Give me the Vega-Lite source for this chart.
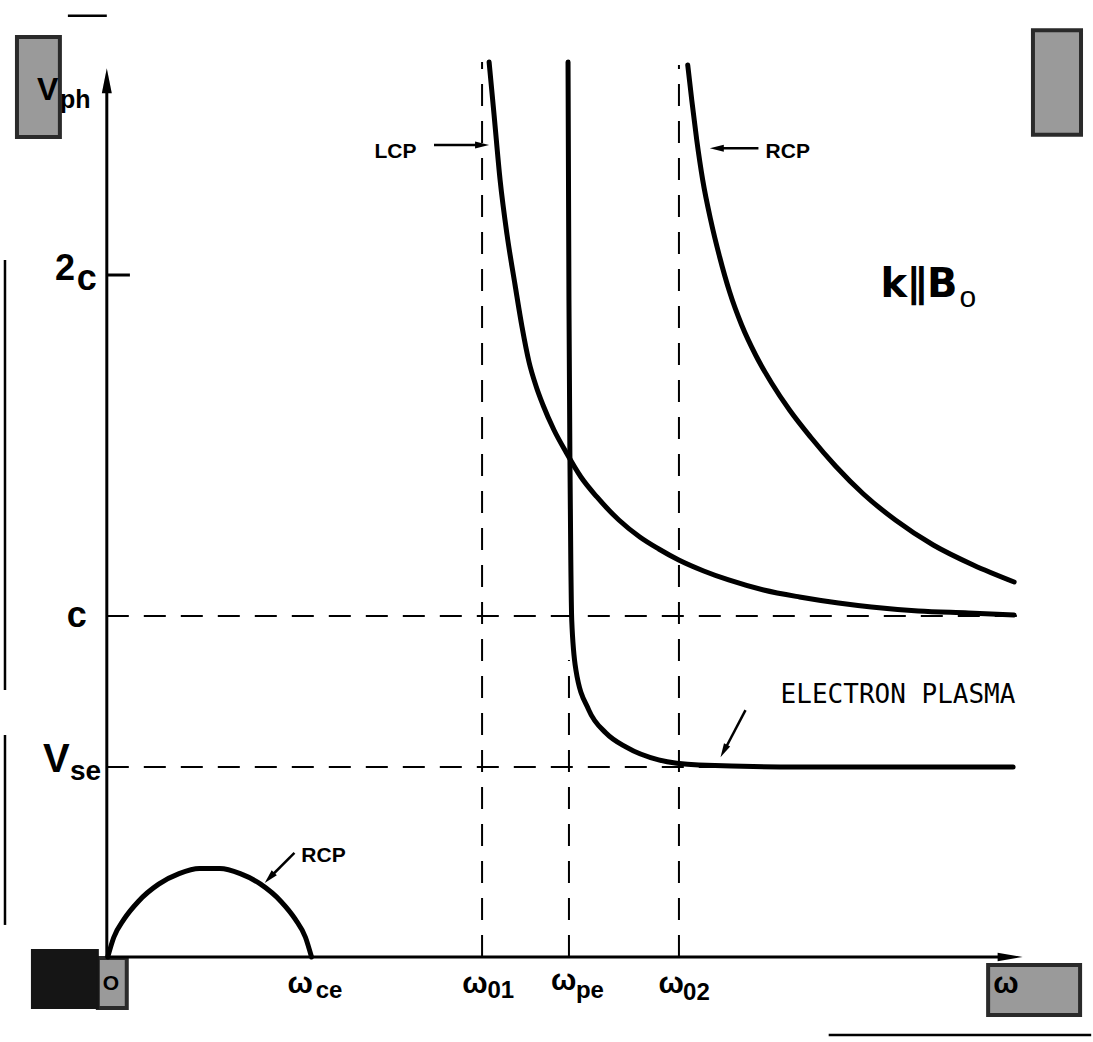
{
  "$schema": "https://vega.github.io/schema/vega-lite/v6.json",
  "width": 1093,
  "height": 1042,
  "autosize": {"type": "fit", "contains": "padding"},
  "padding": 0,
  "background": "white",
  "config": {"view": {"stroke": null}},
  "datasets": {
    "curves": [
      {"curve": "LCP", "i": 1, "omega": 0.8272, "v": 2.6246},
      {"curve": "LCP", "i": 2, "omega": 0.8380, "v": 2.4692},
      {"curve": "LCP", "i": 3, "omega": 0.8510, "v": 2.2786},
      {"curve": "LCP", "i": 4, "omega": 0.8661, "v": 2.1173},
      {"curve": "LCP", "i": 5, "omega": 0.8834, "v": 1.9707},
      {"curve": "LCP", "i": 6, "omega": 0.8985, "v": 1.8475},
      {"curve": "LCP", "i": 7, "omega": 0.9136, "v": 1.7449},
      {"curve": "LCP", "i": 8, "omega": 0.9287, "v": 1.6745},
      {"curve": "LCP", "i": 9, "omega": 0.9438, "v": 1.6188},
      {"curve": "LCP", "i": 10, "omega": 0.9676, "v": 1.5455},
      {"curve": "LCP", "i": 11, "omega": 0.9935, "v": 1.4809},
      {"curve": "LCP", "i": 12, "omega": 1.0259, "v": 1.4076},
      {"curve": "LCP", "i": 13, "omega": 1.0605, "v": 1.3490},
      {"curve": "LCP", "i": 14, "omega": 1.1080, "v": 1.2815},
      {"curve": "LCP", "i": 15, "omega": 1.1533, "v": 1.2317},
      {"curve": "LCP", "i": 16, "omega": 1.1944, "v": 1.1965},
      {"curve": "LCP", "i": 17, "omega": 1.2376, "v": 1.1642},
      {"curve": "LCP", "i": 18, "omega": 1.2916, "v": 1.1320},
      {"curve": "LCP", "i": 19, "omega": 1.3456, "v": 1.1056},
      {"curve": "LCP", "i": 20, "omega": 1.4212, "v": 1.0762},
      {"curve": "LCP", "i": 21, "omega": 1.4989, "v": 1.0557},
      {"curve": "LCP", "i": 22, "omega": 1.5832, "v": 1.0381},
      {"curve": "LCP", "i": 23, "omega": 1.6544, "v": 1.0264},
      {"curve": "LCP", "i": 24, "omega": 1.7559, "v": 1.0147},
      {"curve": "LCP", "i": 25, "omega": 1.8639, "v": 1.0088},
      {"curve": "LCP", "i": 26, "omega": 1.9633, "v": 1.0029},
      {"curve": "Electron plasma", "i": 1, "omega": 0.998, "v": 2.625},
      {"curve": "Electron plasma", "i": 2, "omega": 1.000, "v": 1.927},
      {"curve": "Electron plasma", "i": 3, "omega": 1.002, "v": 1.478},
      {"curve": "Electron plasma", "i": 4, "omega": 1.004, "v": 1.164},
      {"curve": "Electron plasma", "i": 5, "omega": 1.006, "v": 0.988},
      {"curve": "Electron plasma", "i": 6, "omega": 1.015, "v": 0.842},
      {"curve": "Electron plasma", "i": 7, "omega": 1.043, "v": 0.724},
      {"curve": "Electron plasma", "i": 8, "omega": 1.080, "v": 0.657},
      {"curve": "Electron plasma", "i": 9, "omega": 1.123, "v": 0.616},
      {"curve": "Electron plasma", "i": 10, "omega": 1.194, "v": 0.578},
      {"curve": "Electron plasma", "i": 11, "omega": 1.281, "v": 0.563},
      {"curve": "Electron plasma", "i": 12, "omega": 1.497, "v": 0.557},
      {"curve": "Electron plasma", "i": 13, "omega": 1.961, "v": 0.557},
      {"curve": "RCP high", "i": 1, "omega": 1.2570, "v": 2.6158},
      {"curve": "RCP high", "i": 2, "omega": 1.2657, "v": 2.5132},
      {"curve": "RCP high", "i": 3, "omega": 1.2765, "v": 2.3959},
      {"curve": "RCP high", "i": 4, "omega": 1.2894, "v": 2.2786},
      {"curve": "RCP high", "i": 5, "omega": 1.3067, "v": 2.1613},
      {"curve": "RCP high", "i": 6, "omega": 1.3261, "v": 2.0528},
      {"curve": "RCP high", "i": 7, "omega": 1.3477, "v": 1.9501},
      {"curve": "RCP high", "i": 8, "omega": 1.3737, "v": 1.8534},
      {"curve": "RCP high", "i": 9, "omega": 1.4039, "v": 1.7654},
      {"curve": "RCP high", "i": 10, "omega": 1.4384, "v": 1.6833},
      {"curve": "RCP high", "i": 11, "omega": 1.4773, "v": 1.6041},
      {"curve": "RCP high", "i": 12, "omega": 1.5227, "v": 1.5249},
      {"curve": "RCP high", "i": 13, "omega": 1.5767, "v": 1.4399},
      {"curve": "RCP high", "i": 14, "omega": 1.6371, "v": 1.3578},
      {"curve": "RCP high", "i": 15, "omega": 1.7063, "v": 1.2815},
      {"curve": "RCP high", "i": 16, "omega": 1.7883, "v": 1.2082},
      {"curve": "RCP high", "i": 17, "omega": 1.8747, "v": 1.1496},
      {"curve": "RCP high", "i": 18, "omega": 1.9633, "v": 1.0997},
      {"curve": "RCP low", "i": 1, "omega": 0.002, "v": 0.0},
      {"curve": "RCP low", "i": 2, "omega": 0.0152, "v": 0.0579},
      {"curve": "RCP low", "i": 3, "omega": 0.0373, "v": 0.1109},
      {"curve": "RCP low", "i": 4, "omega": 0.0682, "v": 0.1629},
      {"curve": "RCP low", "i": 5, "omega": 0.1123, "v": 0.2135},
      {"curve": "RCP low", "i": 6, "omega": 0.1564, "v": 0.2443},
      {"curve": "RCP low", "i": 7, "omega": 0.2005, "v": 0.2592},
      {"curve": "RCP low", "i": 8, "omega": 0.2446, "v": 0.2592},
      {"curve": "RCP low", "i": 9, "omega": 0.2887, "v": 0.2443},
      {"curve": "RCP low", "i": 10, "omega": 0.3328, "v": 0.2135},
      {"curve": "RCP low", "i": 11, "omega": 0.3769, "v": 0.1629},
      {"curve": "RCP low", "i": 12, "omega": 0.4077, "v": 0.1109},
      {"curve": "RCP low", "i": 13, "omega": 0.4298, "v": 0.0579},
      {"curve": "RCP low", "i": 14, "omega": 0.443, "v": 0.0}
    ],
    "axes": [
      {"name": "v axis", "omega": 0, "v": 0, "omega2": 0, "v2": 2.55},
      {"name": "omega axis", "omega": 0, "v": 0, "omega2": 1.95, "v2": 0},
      {"name": "2c tick", "omega": 0, "v": 2, "omega2": 0.05, "v2": 2}
    ],
    "dashed": [
      {"name": "c", "omega": 0, "v": 1, "omega2": 1.972, "v2": 1},
      {"name": "Vse", "omega": 0, "v": 0.557, "omega2": 1.961, "v2": 0.557},
      {"name": "w01", "omega": 0.812, "v": 0, "omega2": 0.812, "v2": 2.625},
      {"name": "w02", "omega": 1.238, "v": 0, "omega2": 1.238, "v2": 2.616},
      {"name": "wpe", "omega": 1.0, "v": 0, "omega2": 1.0, "v2": 0.871}
    ],
    "pointers": [
      {"name": "LCP", "omega": 0.708, "v": 2.381, "omega2": 0.801, "v2": 2.381},
      {"name": "RCP high", "omega": 1.410, "v": 2.372, "omega2": 1.324, "v2": 2.372},
      {"name": "RCP low", "omega": 0.406, "v": 0.305, "omega2": 0.356, "v2": 0.2375},
      {"name": "Electron plasma", "omega": 1.382, "v": 0.724, "omega2": 1.339, "v2": 0.613}
    ],
    "edges": [
      {"omega": -0.2203, "v": 2.044, "omega2": -0.2203, "v2": 0.783},
      {"omega": -0.2203, "v": 0.651, "omega2": -0.2203, "v2": 0.094},
      {"omega": -0.0842, "v": 2.760, "omega2": 0, "v2": 2.760},
      {"omega": 1.562, "v": -0.229, "omega2": 2.13, "v2": -0.229}
    ],
    "grayboxes": [
      {"omega": -0.1944, "v": 2.698, "omega2": -0.1015, "v2": 2.405},
      {"omega": 2.004, "v": 2.718, "omega2": 2.108, "v2": 2.411},
      {"omega": 1.907, "v": -0.0235, "omega2": 2.106, "v2": -0.170},
      {"omega": -0.0194, "v": -0.003, "omega2": 0.0432, "v2": -0.1496}
    ],
    "darkboxes": [
      {"omega": -0.162, "v": 0.0205, "omega2": -0.0194, "v2": -0.1496}
    ]
  },
  "encoding": {
    "x": {"field": "omega", "type": "quantitative", "scale": {"domain": [-0.2311, 2.1296], "nice": false, "zero": false}, "axis": null},
    "y": {"field": "v", "type": "quantitative", "scale": {"domain": [-0.2493, 2.8065], "nice": false, "zero": false}, "axis": null}
  },
  "layer": [
    {"data": {"name": "grayboxes"}, "mark": {"type": "rect", "fill": "#9a9a9a", "stroke": "#2a2a2a", "strokeWidth": 4}, "encoding": {"x2": {"field": "omega2"}, "y2": {"field": "v2"}}},
    {"data": {"name": "darkboxes"}, "mark": {"type": "rect", "fill": "#151515", "stroke": "#151515", "strokeWidth": 2}, "encoding": {"x2": {"field": "omega2"}, "y2": {"field": "v2"}}},
    {"data": {"name": "edges"}, "mark": {"type": "rule", "color": "black", "strokeWidth": 2.5}, "encoding": {"x2": {"field": "omega2"}, "y2": {"field": "v2"}}},
    {"data": {"name": "dashed"}, "mark": {"type": "rule", "color": "black", "strokeWidth": 2, "strokeDash": [22, 15]}, "encoding": {"x2": {"field": "omega2"}, "y2": {"field": "v2"}}},
    {"data": {"name": "axes"}, "mark": {"type": "rule", "color": "black", "strokeWidth": 3}, "encoding": {"x2": {"field": "omega2"}, "y2": {"field": "v2"}}},
    {"data": {"values": [{"omega": 0, "v": 2.570}]}, "mark": {"type": "point", "shape": "M0,-1L0.4,1L-0.4,1Z", "size": 625, "filled": true, "color": "black", "opacity": 1}},
    {"data": {"values": [{"omega": 1.9546, "v": 0}]}, "mark": {"type": "point", "shape": "M0,-1L0.34,1L-0.34,1Z", "angle": 90, "size": 625, "filled": true, "color": "black", "opacity": 1}},
    {"data": {"name": "curves"}, "mark": {"type": "line", "color": "black", "strokeWidth": 5, "interpolate": "monotone", "strokeCap": "round"}, "encoding": {"detail": {"field": "curve"}, "order": {"field": "i", "type": "quantitative"}}},
    {"data": {"name": "pointers"}, "mark": {"type": "rule", "color": "black", "strokeWidth": 2.5}, "encoding": {"x2": {"field": "omega2"}, "y2": {"field": "v2"}}},
    {"data": {"values": [{"omega": 0.812, "v": 2.381}]}, "mark": {"type": "point", "shape": "M0,-1L0.5,1L-0.5,1Z", "angle": 90, "size": 196, "filled": true, "color": "black", "opacity": 1}},
    {"data": {"values": [{"omega": 1.320, "v": 2.372}]}, "mark": {"type": "point", "shape": "M0,-1L0.5,1L-0.5,1Z", "angle": 270, "size": 196, "filled": true, "color": "black", "opacity": 1}},
    {"data": {"values": [{"omega": 0.352, "v": 0.232}]}, "mark": {"type": "point", "shape": "M0,-1L0.5,1L-0.5,1Z", "angle": 223, "size": 196, "filled": true, "color": "black", "opacity": 1}},
    {"data": {"values": [{"omega": 1.335, "v": 0.604}]}, "mark": {"type": "point", "shape": "M0,-1L0.5,1L-0.5,1Z", "angle": 208, "size": 196, "filled": true, "color": "black", "opacity": 1}},
    {"data": {"values": [{"label": "2", "omega": -0.1123, "v": 1.985}, {"label": "c", "omega": -0.0648, "v": 1.956}, {"label": "c", "omega": -0.0864, "v": 0.968}]}, "mark": {"type": "text", "font": "Liberation Sans", "fontWeight": "bold", "fontSize": 36, "align": "left", "baseline": "alphabetic", "color": "black"}, "encoding": {"text": {"field": "label"}}},
    {"data": {"values": [{"label": "V", "omega": -0.1382, "v": 0.5425}]}, "mark": {"type": "text", "font": "Liberation Sans", "fontWeight": "bold", "fontSize": 40, "align": "left", "baseline": "alphabetic", "color": "black"}, "encoding": {"text": {"field": "label"}}},
    {"data": {"values": [{"label": "se", "omega": -0.0799, "v": 0.519}]}, "mark": {"type": "text", "font": "Liberation Sans", "fontWeight": "bold", "fontSize": 28, "align": "left", "baseline": "alphabetic", "color": "black"}, "encoding": {"text": {"field": "label"}}},
    {"data": {"values": [{"label": "V", "omega": -0.1512, "v": 2.513}]}, "mark": {"type": "text", "font": "Liberation Sans", "fontWeight": "bold", "fontSize": 32, "align": "left", "baseline": "alphabetic", "color": "black"}, "encoding": {"text": {"field": "label"}}},
    {"data": {"values": [{"label": "ph", "omega": -0.1015, "v": 2.490}]}, "mark": {"type": "text", "font": "Liberation Sans", "fontWeight": "bold", "fontSize": 25, "align": "left", "baseline": "alphabetic", "color": "black"}, "encoding": {"text": {"field": "label"}}},
    {"data": {"values": [{"label": "O", "omega": -0.0086, "v": -0.0968}]}, "mark": {"type": "text", "font": "Liberation Sans", "fontWeight": "bold", "fontSize": 21, "align": "left", "baseline": "alphabetic", "color": "black"}, "encoding": {"text": {"field": "label"}}},
    {"data": {"values": [{"label": "ω", "omega": 0.391, "v": -0.1056}, {"label": "ω", "omega": 0.769, "v": -0.1056}, {"label": "ω", "omega": 0.961, "v": -0.0968}, {"label": "ω", "omega": 1.194, "v": -0.1056}, {"label": "ω", "omega": 1.918, "v": -0.1056}]}, "mark": {"type": "text", "font": "Liberation Sans", "fontWeight": "bold", "fontSize": 30, "align": "left", "baseline": "alphabetic", "color": "black"}, "encoding": {"text": {"field": "label"}}},
    {"data": {"values": [{"label": "ce", "omega": 0.452, "v": -0.1202}, {"label": "01", "omega": 0.8237, "v": -0.1202}, {"label": "pe", "omega": 1.0150, "v": -0.1202}, {"label": "02", "omega": 1.247, "v": -0.1261}]}, "mark": {"type": "text", "font": "Liberation Sans", "fontWeight": "bold", "fontSize": 24, "align": "left", "baseline": "alphabetic", "color": "black"}, "encoding": {"text": {"field": "label"}}},
    {"data": {"values": [{"label": "LCP", "omega": 0.579, "v": 2.343}, {"label": "RCP", "omega": 1.4255, "v": 2.343}, {"label": "RCP", "omega": 0.421, "v": 0.2786}]}, "mark": {"type": "text", "font": "Liberation Sans", "fontWeight": "bold", "fontSize": 21, "align": "left", "baseline": "alphabetic", "color": "black"}, "encoding": {"text": {"field": "label"}}},
    {"data": {"values": [{"label": "ELECTRON PLASMA", "omega": 1.458, "v": 0.745}]}, "mark": {"type": "text", "font": "DejaVu Sans Mono", "fontSize": 26, "align": "left", "baseline": "alphabetic", "color": "black"}, "encoding": {"text": {"field": "label"}}},
    {"data": {"values": [{"label": "k∥B", "omega": 1.674, "v": 1.935}]}, "mark": {"type": "text", "font": "DejaVu Sans", "fontWeight": "bold", "fontSize": 40, "align": "left", "baseline": "alphabetic", "color": "black"}, "encoding": {"text": {"field": "label"}}},
    {"data": {"values": [{"label": "o", "omega": 1.845, "v": 1.906}]}, "mark": {"type": "text", "font": "Liberation Sans", "fontSize": 30, "align": "left", "baseline": "alphabetic", "color": "black"}, "encoding": {"text": {"field": "label"}}}
  ]
}
